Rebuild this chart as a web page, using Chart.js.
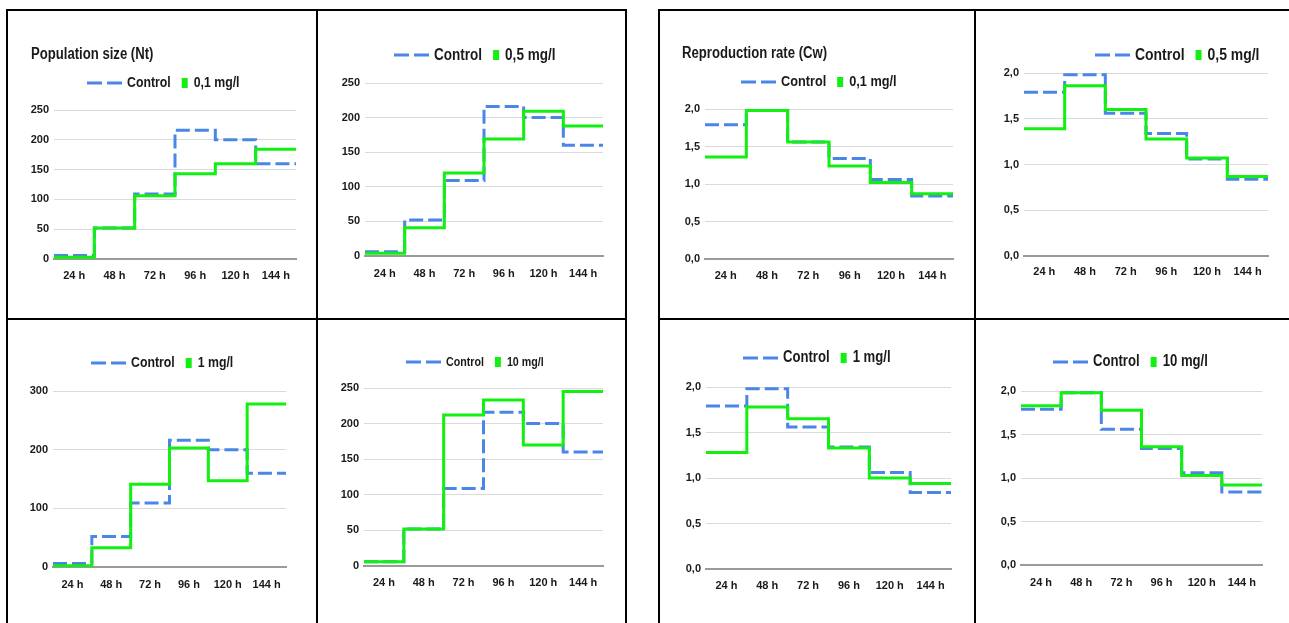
<!DOCTYPE html>
<html>
<head>
<meta charset="utf-8">
<script src="https://cdn.jsdelivr.net/npm/chart.js@4.4.1/dist/chart.umd.min.js"></script>
<style>
    html, body { margin: 0; padding: 0; background: #fff; }
    body { width: 1289px; height: 623px; position: relative; overflow: hidden; }
    .ln { position: absolute; background: #000; }
    canvas { position: absolute; }
</style>
</head>
<body>
<!-- table borders -->
<div class="ln" style="left:6px;top:9px;width:621px;height:2px"></div>
<div class="ln" style="left:6px;top:9px;width:2px;height:614px"></div>
<div class="ln" style="left:625px;top:9px;width:2px;height:614px"></div>
<div class="ln" style="left:316px;top:9px;width:2px;height:614px"></div>
<div class="ln" style="left:6px;top:318px;width:621px;height:2px"></div>
<div class="ln" style="left:658px;top:9px;width:631px;height:2px"></div>
<div class="ln" style="left:658px;top:9px;width:2px;height:614px"></div>
<div class="ln" style="left:974px;top:9px;width:2px;height:614px"></div>
<div class="ln" style="left:658px;top:318px;width:631px;height:2px"></div>

<script>
// Time points
const hours = ['24 h', '48 h', '72 h', '96 h', '120 h', '144 h'];

// Population size (Nt)
const popControl = [6, 52, 109, 216, 200, 160];
const pop01 = [3, 52, 106, 143, 160, 184];
const pop05 = [4, 41, 120, 169, 209, 188];
const pop1 = [2, 33, 141, 203, 147, 278];
const pop10 = [6, 52, 212, 233, 170, 245];

// Reproduction rate (Cw)
const repControl = [1.79, 1.98, 1.56, 1.34, 1.06, 0.84];
const rep01 = [1.36, 1.98, 1.56, 1.24, 1.02, 0.87];
const rep05 = [1.39, 1.86, 1.60, 1.28, 1.07, 0.87];
const rep1 = [1.28, 1.78, 1.65, 1.33, 1.00, 0.94];
const rep10 = [1.83, 1.98, 1.78, 1.36, 1.03, 0.92];

const FONT = "'Liberation Sans', Arial, sans-serif";
const NARROW = 0.82;   // the source pictures are squeezed sideways
const BLUE = '#4a86e8';
const GREEN = '#11f011';
const TEXT = '#1a1a1a';

// Page layout of each panel (cell box, plot box, text anchors)
const panels = [
    { cell: [8, 11, 308, 307], plot: [54, 110, 296, 259], max: 250, step: 50, ctrl: popControl, test: pop01, label: '0,1 mg/l',
      title: 'Population size (Nt)', titleAt: [31, 55], legendAt: [87, 83], fs: 15, xLabY: 276 },
    { cell: [318, 11, 307, 307], plot: [365, 83, 603, 256], max: 250, step: 50, ctrl: popControl, test: pop05, label: '0,5 mg/l',
      legendAt: [394, 55], fs: 16.5, xLabY: 274 },
    { cell: [8, 320, 308, 303], plot: [53, 391, 286, 567], max: 300, step: 100, ctrl: popControl, test: pop1, label: '1 mg/l',
      legendAt: [91, 363], fs: 15, xLabY: 585 },
    { cell: [318, 320, 307, 303], plot: [364, 388, 603, 566], max: 250, step: 50, ctrl: popControl, test: pop10, label: '10 mg/l',
      legendAt: [406, 362], fs: 13, xLabY: 583 },
    { cell: [660, 11, 314, 307], plot: [705, 109, 953, 259], max: 2, step: 0.5, ctrl: repControl, test: rep01, label: '0,1 mg/l',
      title: 'Reproduction rate (Cw)', titleAt: [682, 54], legendAt: [741, 82], fs: 15.5, xLabY: 276 },
    { cell: [976, 11, 313, 307], plot: [1024, 73, 1268, 256], max: 2, step: 0.5, ctrl: repControl, test: rep05, label: '0,5 mg/l',
      legendAt: [1095, 55], fs: 17, xLabY: 272 },
    { cell: [660, 320, 314, 303], plot: [706, 387, 951, 569], max: 2, step: 0.5, ctrl: repControl, test: rep1, label: '1 mg/l',
      legendAt: [743, 358], fs: 16, xLabY: 586 },
    { cell: [976, 320, 313, 303], plot: [1021, 391, 1262, 565], max: 2, step: 0.5, ctrl: repControl, test: rep10, label: '10 mg/l',
      legendAt: [1053, 362], fs: 16, xLabY: 583 }
];

// each value is held from the start to the end of its time slot
function stepPoints(vals) {
    const pts = vals.map((v, i) => ({ x: i, y: v }));
    pts.push({ x: vals.length, y: vals[vals.length - 1] });
    return pts;
}

function narrowText(ctx, str, x, y) {
    ctx.save();
    ctx.translate(x, y);
    ctx.scale(NARROW, 1);
    ctx.fillText(str, 0, 0);
    ctx.restore();
    return ctx.measureText(str).width * NARROW;
}

// title + legend drawn at fixed spots
const panelText = {
    id: 'panelText',
    afterDraw(chart, args, o) {
        const ctx = chart.ctx;
        ctx.save();
        ctx.textBaseline = 'middle';
        ctx.textAlign = 'left';
        ctx.fillStyle = TEXT;
        if (o.title) {
            ctx.font = `bold ${o.titleSize}px ${FONT}`;
            narrowText(ctx, o.title, o.titleX, o.titleY);
        }
        ctx.font = `bold ${o.size}px ${FONT}`;
        const ds = chart.data.datasets;
        let x = o.x;
        const y = o.y;
        // dashed sample
        ctx.strokeStyle = ds[0].borderColor;
        ctx.lineWidth = 3;
        ctx.beginPath();
        ctx.moveTo(x, y); ctx.lineTo(x + 15, y);
        ctx.moveTo(x + 20, y); ctx.lineTo(x + 35, y);
        ctx.stroke();
        x += 40;
        ctx.fillStyle = TEXT;
        x += narrowText(ctx, ds[0].label, x, y) + 11;
        ctx.fillStyle = ds[1].borderColor;
        ctx.fillRect(x, y - 5, 6, 10);
        x += 12;
        ctx.fillStyle = TEXT;
        narrowText(ctx, ds[1].label, x, y);
        ctx.restore();
    }
};

panels.forEach(p => {
    const [cx, cy, cw, ch] = p.cell;
    const [pl, pt, pr, pb] = p.plot;
    const canvas = document.createElement('canvas');
    canvas.width = cw;
    canvas.height = ch;
    canvas.style.left = cx + 'px';
    canvas.style.top = cy + 'px';
    document.body.appendChild(canvas);

    const dec = p.step < 1;
    new Chart(canvas.getContext('2d'), {
        type: 'line',
        data: {
            datasets: [
                { label: 'Control', data: stepPoints(p.ctrl), borderColor: BLUE, borderWidth: 3,
                  borderDash: [14, 5], stepped: true, pointRadius: 0, fill: false, order: 1 },
                { label: p.label, data: stepPoints(p.test), borderColor: GREEN, borderWidth: 3,
                  stepped: true, pointRadius: 0, fill: false, order: 0 }
            ]
        },
        options: {
            responsive: false,
            animation: false,
            devicePixelRatio: 1,
            layout: { padding: { left: 0, top: pt - cy, right: cx + cw - pr, bottom: 0 } },
            plugins: {
                legend: { display: false },
                tooltip: { enabled: false },
                panelText: {
                    title: p.title, titleSize: 16,
                    titleX: p.title ? p.titleAt[0] - cx : 0, titleY: p.title ? p.titleAt[1] - cy : 0,
                    x: p.legendAt[0] - cx, y: p.legendAt[1] - cy, size: p.fs
                }
            },
            scales: {
                x: {
                    type: 'linear', min: 0, max: hours.length,
                    afterBuildTicks: s => { s.ticks = hours.map((h, i) => ({ value: i + 0.5 })); },
                    afterFit: s => { s.height = cy + ch - pb; },
                    grid: { display: false, drawTicks: false },
                    border: { display: true, color: '#9a9a9a', width: 2 },
                    ticks: {
                        autoSkip: false, maxRotation: 0, padding: p.xLabY - pb - 6.6,
                        color: TEXT, font: { family: FONT, size: 11, weight: 'bold' },
                        callback: v => hours[Math.round(v - 0.5)]
                    }
                },
                y: {
                    min: 0, max: p.max,
                    afterFit: s => { s.width = pl - cx; },
                    grid: { color: '#dadada', lineWidth: 1, drawTicks: false },
                    border: { display: false },
                    ticks: {
                        stepSize: p.step, padding: 5,
                        color: TEXT, font: { family: FONT, size: 11, weight: 'bold' },
                        callback: v => dec ? v.toFixed(1).replace('.', ',') : String(v)
                    }
                }
            }
        },
        plugins: [panelText]
    });
});
</script>
</body>
</html>
